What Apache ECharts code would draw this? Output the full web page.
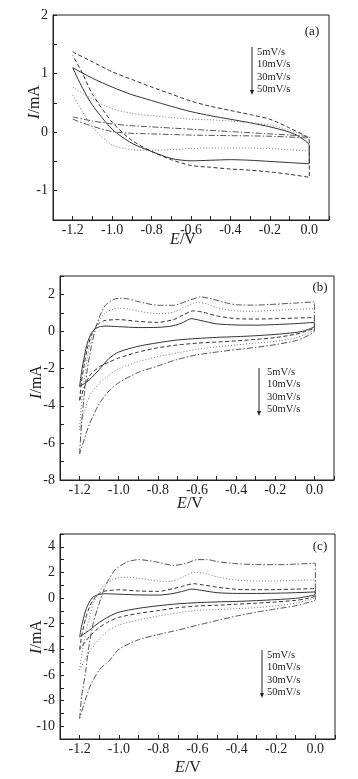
<!DOCTYPE html>
<html>
<head>
<meta charset="utf-8">
<script src="https://cdn.jsdelivr.net/npm/echarts@6/dist/echarts.min.js"></script>
<style>
html, body { margin: 0; padding: 0; background: #fff; }
#cv { width: 358px; height: 779px; }
</style>
</head>
<body>
<div id="cv"></div>
<script>
// scan rates, same order in every panel
const rates = ['5mV/s', '10mV/s', '30mV/s', '50mV/s'];
const panelTags = ['(a)', '(b)', '(c)'];

// each loop: [E (V), I (mA)] from -1.2 along the upper branch to 0.0, then back along the lower one
// panel (a)
const a5 = [[-1.2,1.10],[-1.1,0.92],[-1.0,0.77],[-0.9,0.64],[-0.8,0.54],[-0.7,0.44],[-0.6,0.35],[-0.5,0.28],[-0.4,0.22],[-0.3,0.16],[-0.2,0.09],[-0.1,0.0],[-0.05,-0.08],[0,-0.23],
  [0,-0.54],[-0.1,-0.52],[-0.2,-0.5],[-0.3,-0.48],[-0.4,-0.47],[-0.5,-0.48],[-0.6,-0.49],[-0.7,-0.45],[-0.8,-0.33],[-0.9,-0.19],[-1.0,0.05],[-1.1,0.46],[-1.15,0.75],[-1.2,1.10]];
const a10 = [[-1.2,1.37],[-1.1,1.2],[-1.0,1.03],[-0.9,0.9],[-0.8,0.77],[-0.7,0.65],[-0.6,0.53],[-0.5,0.44],[-0.4,0.37],[-0.3,0.3],[-0.2,0.22],[-0.1,0.07],[0,-0.15],
  [0,-0.77],[-0.1,-0.72],[-0.2,-0.68],[-0.3,-0.65],[-0.4,-0.63],[-0.5,-0.6],[-0.6,-0.57],[-0.7,-0.47],[-0.8,-0.33],[-0.9,-0.14],[-1.0,0.17],[-1.1,0.65],[-1.15,1.0],[-1.2,1.31]];
const a30 = [[-1.2,0.77],[-1.1,0.56],[-1.0,0.4],[-0.9,0.32],[-0.8,0.28],[-0.7,0.25],[-0.6,0.22],[-0.5,0.21],[-0.4,0.19],[-0.3,0.16],[-0.2,0.12],[-0.1,0.03],[0,-0.13],
  [0,-0.32],[-0.1,-0.3],[-0.2,-0.28],[-0.3,-0.27],[-0.4,-0.27],[-0.5,-0.27],[-0.6,-0.28],[-0.7,-0.3],[-0.8,-0.31],[-0.9,-0.3],[-1.0,-0.22],[-1.1,0.08],[-1.15,0.35],[-1.2,0.63]];
const a50 = [[-1.2,0.26],[-1.1,0.19],[-1.0,0.14],[-0.9,0.11],[-0.8,0.09],[-0.6,0.05],[-0.4,0.01],[-0.2,-0.03],[-0.1,-0.05],[0,-0.08],
  [0,-0.1],[-0.2,-0.07],[-0.4,-0.06],[-0.6,-0.05],[-0.8,-0.03],[-0.9,-0.02],[-1.0,0.01],[-1.1,0.1],[-1.2,0.22]];

// panel (b)
const b5 = [[-1.2,-2.96],[-1.19,-2.2],[-1.175,-1.3],[-1.16,-0.6],[-1.14,-0.1],[-1.12,0.15],[-1.1,0.26],[-1.07,0.3],[-1.0,0.27],[-0.9,0.22],[-0.8,0.23],[-0.72,0.32],[-0.67,0.5],[-0.63,0.7],[-0.58,0.6],[-0.5,0.42],[-0.4,0.36],[-0.3,0.35],[-0.2,0.38],[-0.1,0.43],[0,0.5],
  [0,0.3],[-0.05,0.05],[-0.1,-0.05],[-0.2,-0.15],[-0.3,-0.22],[-0.4,-0.27],[-0.5,-0.31],[-0.6,-0.37],[-0.7,-0.45],[-0.8,-0.6],[-0.9,-0.79],[-1.0,-1.1],[-1.05,-1.45],[-1.1,-2.05],[-1.15,-2.6],[-1.2,-2.96]];
const b10 = [[-1.2,-3.7],[-1.19,-2.7],[-1.175,-1.7],[-1.16,-0.9],[-1.14,-0.2],[-1.12,0.2],[-1.1,0.45],[-1.07,0.6],[-1.0,0.65],[-0.9,0.55],[-0.8,0.5],[-0.72,0.65],[-0.67,0.9],[-0.62,1.12],[-0.57,1.05],[-0.5,0.85],[-0.4,0.7],[-0.3,0.68],[-0.2,0.7],[-0.1,0.73],[0,0.76],
  [0,0.25],[-0.05,0.0],[-0.1,-0.15],[-0.2,-0.32],[-0.3,-0.42],[-0.4,-0.5],[-0.5,-0.56],[-0.6,-0.62],[-0.7,-0.72],[-0.8,-0.87],[-0.9,-1.1],[-1.0,-1.42],[-1.05,-1.65],[-1.1,-1.9],[-1.15,-2.4],[-1.2,-3.7]];
const b30 = [[-1.2,-5.3],[-1.19,-3.8],[-1.175,-2.5],[-1.16,-1.4],[-1.14,-0.4],[-1.12,0.2],[-1.1,0.6],[-1.07,1.0],[-1.03,1.2],[-1.0,1.27],[-0.95,1.22],[-0.9,1.1],[-0.8,0.97],[-0.72,1.05],[-0.66,1.35],[-0.6,1.57],[-0.55,1.5],[-0.5,1.3],[-0.4,1.12],[-0.3,1.1],[-0.2,1.15],[-0.1,1.2],[0,1.24],
  [0,0.15],[-0.05,-0.15],[-0.1,-0.35],[-0.2,-0.52],[-0.3,-0.62],[-0.4,-0.72],[-0.5,-0.82],[-0.6,-0.95],[-0.7,-1.15],[-0.8,-1.35],[-0.9,-1.62],[-1.0,-2.0],[-1.05,-2.35],[-1.1,-2.8],[-1.15,-3.5],[-1.2,-5.3]];
const b50 = [[-1.2,-6.6],[-1.19,-5.0],[-1.175,-3.3],[-1.16,-2.0],[-1.14,-0.8],[-1.12,0.1],[-1.1,0.75],[-1.07,1.4],[-1.03,1.72],[-1.0,1.8],[-0.95,1.76],[-0.9,1.62],[-0.8,1.42],[-0.72,1.42],[-0.65,1.65],[-0.58,1.87],[-0.52,1.75],[-0.45,1.55],[-0.4,1.45],[-0.3,1.43],[-0.2,1.48],[-0.1,1.54],[0,1.6],
  [0,0.05],[-0.05,-0.3],[-0.1,-0.5],[-0.2,-0.7],[-0.3,-0.85],[-0.4,-0.97],[-0.5,-1.1],[-0.6,-1.25],[-0.7,-1.5],[-0.8,-1.85],[-0.9,-2.2],[-1.0,-2.75],[-1.05,-3.2],[-1.1,-3.9],[-1.15,-5.0],[-1.2,-6.6]];

// panel (c)
const c5 = [[-1.2,-3.03],[-1.19,-2.2],[-1.17,-1.0],[-1.15,-0.3],[-1.13,0.1],[-1.1,0.28],[-1.07,0.34],[-1.0,0.3],[-0.9,0.25],[-0.8,0.23],[-0.72,0.37],[-0.67,0.55],[-0.63,0.7],[-0.58,0.6],[-0.5,0.42],[-0.4,0.36],[-0.3,0.36],[-0.2,0.38],[-0.1,0.42],[0,0.48],
  [0,0.3],[-0.05,0.1],[-0.1,-0.02],[-0.2,-0.12],[-0.3,-0.2],[-0.4,-0.26],[-0.5,-0.3],[-0.6,-0.36],[-0.7,-0.45],[-0.8,-0.6],[-0.9,-0.8],[-1.0,-1.1],[-1.05,-1.43],[-1.1,-1.9],[-1.15,-2.5],[-1.2,-3.03]];
const c10 = [[-1.2,-4.0],[-1.19,-3.0],[-1.17,-1.6],[-1.15,-0.7],[-1.13,-0.1],[-1.1,0.35],[-1.07,0.55],[-1.0,0.65],[-0.9,0.55],[-0.8,0.52],[-0.72,0.75],[-0.67,0.95],[-0.62,1.12],[-0.57,1.02],[-0.5,0.85],[-0.4,0.68],[-0.3,0.65],[-0.2,0.66],[-0.1,0.7],[0,0.74],
  [0,0.2],[-0.05,-0.05],[-0.1,-0.18],[-0.2,-0.3],[-0.3,-0.4],[-0.4,-0.48],[-0.5,-0.56],[-0.6,-0.62],[-0.7,-0.75],[-0.8,-0.98],[-0.9,-1.2],[-1.0,-1.5],[-1.05,-1.82],[-1.1,-2.3],[-1.15,-3.0],[-1.2,-4.0]];
const c30 = [[-1.2,-5.6],[-1.19,-4.5],[-1.17,-2.8],[-1.15,-1.5],[-1.13,-0.4],[-1.1,0.5],[-1.07,1.1],[-1.03,1.45],[-1.0,1.58],[-0.95,1.62],[-0.9,1.55],[-0.8,1.33],[-0.74,1.3],[-0.68,1.6],[-0.62,2.0],[-0.57,1.95],[-0.5,1.65],[-0.4,1.4],[-0.3,1.33],[-0.2,1.33],[-0.1,1.38],[0,1.42],
  [0,0.1],[-0.05,-0.2],[-0.1,-0.4],[-0.2,-0.6],[-0.3,-0.75],[-0.4,-0.82],[-0.5,-0.9],[-0.6,-0.95],[-0.7,-1.15],[-0.8,-1.4],[-0.9,-1.7],[-1.0,-2.1],[-1.05,-2.5],[-1.1,-3.2],[-1.15,-4.2],[-1.2,-5.6]];
const c50 = [[-1.2,-9.4],[-1.19,-7.7],[-1.17,-5.8],[-1.155,-4.0],[-1.13,-1.9],[-1.1,-0.4],[-1.07,0.9],[-1.02,2.2],[-0.96,2.8],[-0.9,3.0],[-0.82,2.85],[-0.72,2.55],[-0.66,2.7],[-0.6,3.0],[-0.55,3.0],[-0.5,2.85],[-0.4,2.68],[-0.3,2.62],[-0.2,2.6],[-0.1,2.65],[0,2.72],
  [0,-0.1],[-0.05,-0.4],[-0.1,-0.6],[-0.2,-0.85],[-0.3,-1.1],[-0.4,-1.4],[-0.5,-1.75],[-0.6,-2.12],[-0.7,-2.5],[-0.8,-2.85],[-0.9,-3.25],[-1.0,-4.0],[-1.05,-4.9],[-1.1,-5.6],[-1.15,-7.0],[-1.2,-9.4]];

const panels = [[a5, a10, a30, a50], [b5, b10, b30, b50], [c5, c10, c30, c50]];
const yRanges = [[-1.5, 2, 0.5], [-8, 3, 1], [-11, 5, 1]];

const FONT = 'Liberation Serif';
const INK = '#222';
const lineLooks = [
  { type: 'solid', color: '#333' },
  { type: [4, 2.5], color: '#333' },
  { type: [1, 2], color: '#777' },
  { type: [6, 2, 1.5, 2], color: '#555' },
];

const grids = [
  { left: 53, top: 15, width: 276, height: 205 },
  { left: 60, top: 276, width: 274, height: 204 },
  { left: 60, top: 534, width: 275, height: 205 },
];

function xLabel(v) {
  const k = Math.round(v * 10);
  return (k % 2 === 0 && k >= -12 && k <= 0) ? (k / 10).toFixed(1) : '';
}

const xAxes = grids.map((g, i) => ({
  type: 'value', gridIndex: i, min: -1.3, max: 0.1, interval: 0.1,
  axisLine: { onZero: false, lineStyle: { color: INK } },
  axisTick: { inside: true, length: 4, lineStyle: { color: INK } },
  axisLabel: { color: INK, fontFamily: FONT, fontSize: 14, margin: 3, formatter: xLabel },
  splitLine: { show: false },
}));

const yAxes = yRanges.map(([lo, hi, step], i) => ({
  type: 'value', gridIndex: i, min: lo, max: hi, interval: step,
  axisLine: { onZero: false, lineStyle: { color: INK } },
  axisTick: { inside: true, length: 4, lineStyle: { color: INK } },
  axisLabel: {
    color: INK, fontFamily: FONT, fontSize: 14, margin: 5,
    formatter: v => {
      const r = Math.round(v);
      if (Math.abs(v - r) > 1e-6) return '';
      if (i > 0 && r % 2 !== 0) return '';
      return String(r);
    },
  },
  splitLine: { show: false },
}));

const series = [];
panels.forEach((loops, p) => {
  loops.forEach((pts, k) => {
    series.push({
      name: rates[k], type: 'line', xAxisIndex: p, yAxisIndex: p,
      data: pts, showSymbol: false, smooth: 0.25,
      lineStyle: { width: 1, type: lineLooks[k].type, color: lineLooks[k].color },
    });
  });
});

// legend blocks, panel tags and axis titles
const legendPos = [[252, 47, 257, 52], [259, 368, 267, 372], [262, 650, 267, 655]];
const tagPos = [[312, 32], [320, 288], [320, 547]];
const xTitlePos = [[183, 240], [190, 504], [188, 768]];
const yTitlePos = [[35, 102], [37, 382], [37, 637]];

const graphic = [];
legendPos.forEach(([ax, ay, tx, ty]) => {
  const ay2 = ay + 48;
  graphic.push({ type: 'line', shape: { x1: ax, y1: ay, x2: ax, y2: ay2 - 4 }, style: { stroke: INK, lineWidth: 1 } });
  graphic.push({ type: 'polygon', shape: { points: [[ax - 2, ay2 - 5], [ax + 2, ay2 - 5], [ax, ay2]] }, style: { fill: INK } });
  rates.forEach((r, k) => {
    graphic.push({ type: 'text', x: tx, y: ty + k * 12.5,
      style: { text: r, fill: INK, font: '10.5px "Liberation Serif"', textVerticalAlign: 'middle' } });
  });
});
tagPos.forEach(([x, y], i) => {
  graphic.push({ type: 'text', x, y, style: { text: panelTags[i], fill: INK, font: '13px "Liberation Serif"', textAlign: 'center', textVerticalAlign: 'middle' } });
});
const titleRich = { i: { fontStyle: 'italic', fontFamily: FONT, fontSize: 16, fill: INK }, n: { fontFamily: FONT, fontSize: 16, fill: INK } };
xTitlePos.forEach(([x, y]) => {
  graphic.push({ type: 'text', x, y, style: { text: '{i|E}{n|/V}', rich: titleRich, textAlign: 'center', textVerticalAlign: 'middle' } });
});
yTitlePos.forEach(([x, y]) => {
  graphic.push({ type: 'text', x, y, rotation: Math.PI / 2, style: { text: '{i|I}{n|/mA}', rich: titleRich, textAlign: 'center', textVerticalAlign: 'middle' } });
});

const chart = echarts.init(document.getElementById('cv'), null, { renderer: 'canvas' });
chart.setOption({
  backgroundColor: '#fff',
  animation: false,
  grid: grids.map(g => ({ ...g, show: true, borderColor: INK, borderWidth: 1, backgroundColor: 'transparent' })),
  xAxis: xAxes,
  yAxis: yAxes,
  series,
  graphic,
});
</script>
</body>
</html>
